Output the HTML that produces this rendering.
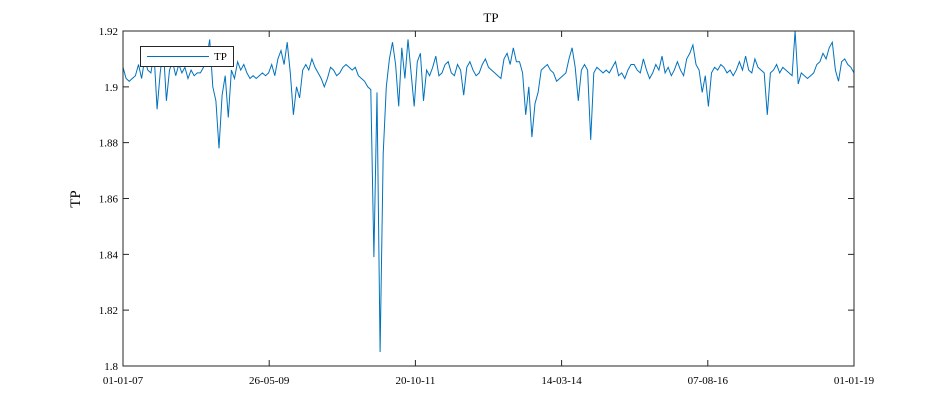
<!DOCTYPE html>
<html><head><meta charset="utf-8"><style>
body{margin:0;background:#fff;}
svg{display:block;font-family:"Liberation Serif",serif;}
</style></head><body>
<svg id="chart" width="945" height="413">
<rect width="945" height="413" fill="#fff"/>
<text x="491" y="22" font-size="13" text-anchor="middle">TP</text>
<text transform="translate(80,199) rotate(-90)" font-size="15" text-anchor="middle">TP</text>
<g id="axes"></g>
<polyline id="series" fill="none" stroke="#0072BD" stroke-width="1"/>
<rect x="123" y="31" width="731" height="335" fill="none" stroke="#262626" stroke-width="1"/>
<g>
<rect x="140.5" y="46.5" width="93" height="20" fill="#fff" stroke="#262626"/>
<line x1="147" y1="56.5" x2="209" y2="56.5" stroke="#0072BD"/>
<text x="214" y="60" font-size="11">TP</text>
</g>
</svg>
<script>
const values=[1.907,1.903,1.902,1.903,1.904,1.908,1.903,1.91,1.906,1.905,1.912,1.892,1.905,1.914,1.895,1.906,1.909,1.904,1.908,1.905,1.907,1.903,1.906,1.904,1.905,1.905,1.907,1.91,1.917,1.9,1.895,
1.878,1.897,1.904,1.889,1.906,1.903,1.909,1.906,1.908,1.905,1.903,1.904,1.903,1.904,1.905,1.904,1.905,1.908,1.904,1.91,1.913,1.908,1.916,1.905,1.89,1.9,1.896,1.906,1.908,1.906,1.91,1.907,1.905,1.903,1.9,1.903,1.907,1.906,1.904,1.905,1.907,1.908,1.907,1.906,1.907,1.904,1.903,1.902,1.9,1.899,1.839,1.898,
1.805,1.876,1.9,1.91,1.916,1.908,1.893,1.914,1.903,1.917,1.905,1.893,1.909,1.912,1.895,1.906,1.904,1.907,1.911,1.904,1.905,1.908,1.909,1.905,1.904,1.908,1.906,1.897,1.907,1.909,1.906,1.904,1.905,1.908,1.91,1.907,1.906,1.905,1.904,1.903,1.91,1.912,1.908,1.914,1.909,1.909,1.905,
1.89,1.9,1.882,1.894,1.898,1.906,1.907,1.908,1.906,1.905,1.902,1.903,1.904,1.905,1.91,1.914,1.907,1.895,1.906,1.908,1.906,
1.881,1.905,1.907,1.906,1.905,1.906,1.905,1.907,1.909,1.904,1.905,1.903,1.906,1.908,1.908,1.906,1.905,1.91,1.906,1.903,1.905,1.908,1.906,1.911,1.905,1.907,1.904,1.906,1.909,1.906,1.904,1.91,1.912,1.915,1.908,1.906,1.898,1.904,1.893,1.905,1.907,1.906,1.908,1.907,1.905,1.906,1.904,1.906,1.909,1.906,1.911,1.906,1.905,1.91,1.907,1.906,1.905,
1.89,1.905,1.906,1.908,1.905,1.907,1.906,1.905,1.904,1.92,1.901,1.905,1.904,1.903,1.904,1.905,1.908,1.909,1.912,1.91,1.914,1.916,1.906,1.902,1.909,1.91,1.908,1.907,1.905];
const yTicks=[1.8,1.82,1.84,1.86,1.88,1.9,1.92];
const yTickLabels=["1.8","1.82","1.84","1.86","1.88","1.9","1.92"];
const xTickLabels=["01-01-07","26-05-09","20-10-11","14-03-14","07-08-16","01-01-19"];
const X0=123,X1=854,Y0=366,Y1=31,YMIN=1.8,YMAX=1.92;
const xs=i=>X0+(X1-X0)*i/(values.length-1);
const ys=v=>Y0-(v-YMIN)/(YMAX-YMIN)*(Y0-Y1);
const NS="http://www.w3.org/2000/svg";
const ax=document.getElementById('axes');
const line=document.getElementById('series');
line.setAttribute('points',values.map((v,i)=>xs(i).toFixed(1)+','+ys(v).toFixed(1)).join(' '));
yTicks.forEach((t,i)=>{
  const y=ys(t);
  const l=document.createElementNS(NS,'path');
  l.setAttribute('d',`M${X0},${y}h6M${X1},${y}h-6`);
  l.setAttribute('stroke','#262626');
  
  
  ax.appendChild(l);
  const tx=document.createElementNS(NS,'text');
  tx.setAttribute('x',X0-5);tx.setAttribute('y',y+4);
  tx.setAttribute('text-anchor','end');tx.setAttribute('font-size','11');
  
  
  tx.textContent=yTickLabels[i];ax.appendChild(tx);
});
xTickLabels.forEach((s,i)=>{
  const x=X0+(X1-X0)*i/(xTickLabels.length-1);
  const l=document.createElementNS(NS,'path');
  l.setAttribute('d',`M${x},${Y0}v-6M${x},${Y1}v6`);
  l.setAttribute('stroke','#262626');
  
  
  ax.appendChild(l);
  const tx=document.createElementNS(NS,'text');
  tx.setAttribute('x',x);tx.setAttribute('y',Y0+18);
  tx.setAttribute('text-anchor','middle');tx.setAttribute('font-size','11');
  
  
  tx.textContent=s;ax.appendChild(tx);
});
</script>
</body></html>
